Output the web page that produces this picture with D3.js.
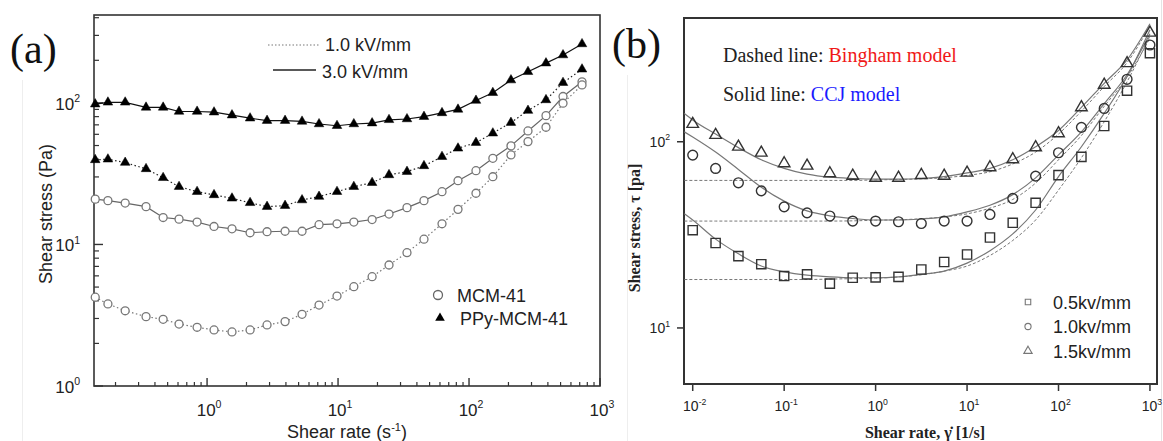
<!DOCTYPE html>
<html>
<head>
<meta charset="utf-8">
<script src="https://cdn.jsdelivr.net/npm/d3@7"></script>
<style>
body { margin: 0; background: #fff; }
svg { display: block; }
</style>
</head>
<body>
<div id="chart"></div>
<script>
// ---- panel (a): shear stress vs shear rate, MCM-41 / PPy-MCM-41
var rateA = [0.14, 0.175, 0.237, 0.342, 0.462, 0.611, 0.839, 1.13, 1.55, 2.13, 2.87, 3.94, 5.31, 7.16, 9.82,
	13.2, 18.2, 24.5, 33.6, 45.3, 62.2, 82.4, 113, 152, 209, 282, 387, 522, 729];
var ppy3kv = [98, 101, 101, 93, 93, 87, 87, 86, 82, 78, 75, 75, 74, 71, 69,
	71, 72, 76, 77, 80, 85, 90, 104, 118, 145, 166, 191, 218, 261];
var ppy1kv = [39.6, 40, 37.9, 34.2, 29.6, 25.6, 23.6, 22.4, 21.2, 19.7, 18.5, 18.8, 20.6, 21.8, 23.6,
	25.6, 27.3, 31, 32.7, 35.9, 41.7, 47.8, 52.4, 61.1, 72.6, 88.3, 105, 139, 173];
var mcm3kv = [20.9, 20.4, 19.6, 18.5, 15.5, 15.1, 14.4, 13.4, 12.9, 12.1, 12.3, 12.4, 12.4, 13.8, 14.0,
	14.4, 15.0, 16.4, 18.2, 20.4, 23.6, 28.2, 33.2, 40.6, 49.7, 63.4, 81.3, 111, 141];
var mcm1kv = [4.24, 3.80, 3.40, 3.09, 2.96, 2.74, 2.60, 2.49, 2.41, 2.49, 2.70, 2.85, 3.21, 3.73, 4.32,
	5.03, 5.92, 7.16, 8.75, 10.9, 14.0, 17.7, 23.0, 30.1, 42.9, 53.3, 67.3, 99.5, 134];
var xTicksA = [1, 10, 100, 1000];
var xTickExpA = ['0', '1', '2', '3'];
var yTicksA = [1, 10, 100];
var yTickExpA = ['0', '1', '2'];

// ---- panel (b): data and model fits
var rateB = [0.01, 0.0178, 0.0316, 0.0562, 0.1, 0.178, 0.316, 0.562, 1, 1.78, 3.16,
	5.62, 10, 17.8, 31.6, 56.2, 100, 178, 316, 562, 1000];
var tri15 = [124.5, 108.6, 94.0, 87.3, 76.5, 74.3, 67.6, 65.6, 64.0, 64.0, 66.2,
	65.6, 68.1, 72.8, 80.4, 93.3, 110.9, 153, 202, 264, 385];
var cir10 = [84.8, 71.9, 60.2, 54.5, 44.7, 41.5, 39.9, 37.5, 37.5, 37.2, 36.4,
	37.5, 37.5, 40.7, 49.6, 65.4, 87.3, 119.5, 151, 216.5, 331];
var sq05 = [33.5, 28.6, 24.3, 22.0, 19.0, 19.4, 17.3, 18.6, 18.7, 18.8, 20.6,
	22.6, 24.8, 30.6, 36.7, 47.0, 66.2, 83.0, 121.5, 188, 299];
var fitRate = [0.0081, 0.01, 0.0178, 0.0316, 0.0562, 0.1, 0.178, 0.316, 0.562, 1, 1.78, 3.16,
	5.62, 10, 17.8, 31.6, 56.2, 100, 178, 316, 562, 1000];
var ccj15 = [142, 131, 110, 93, 80, 72, 67, 64.5, 63.5, 63, 63, 63.5, 65, 68, 72, 80, 94, 115, 153, 206, 275, 430];
var ccj10 = [113, 106, 88, 71, 57, 48, 42.5, 40, 38.7, 38, 38, 38.5, 39.5, 42, 45.6, 52, 64, 85, 113, 160, 229, 380];
var ccj05 = [41, 38, 30, 25, 21.5, 20, 19.2, 18.8, 18.6, 18.6, 18.8, 19.4, 20.2, 22.3, 26, 32, 43, 65, 94, 142, 224, 400];
var bing15 = [62, 62, 62, 62, 62, 62, 62, 62, 62, 62.4, 62.7, 63.2, 64.1, 66, 69, 76, 88, 110, 146, 198, 266, 420];
var bing10 = [37.5, 37.5, 37.5, 37.5, 37.5, 37.5, 37.5, 37.5, 37.6, 37.9, 38.1, 38.6, 39.5, 41, 44, 49, 60, 80, 108, 155, 222, 360];
var bing05 = [18.2, 18.2, 18.2, 18.2, 18.2, 18.2, 18.2, 18.3, 18.4, 18.5, 18.8, 19.3, 20.2, 21.5, 24.5, 29.5, 38, 55, 82, 128, 210, 370];
var xTicksB = [0.01, 0.1, 1, 10, 100, 1000];
var xTickExpB = ['-2', '-1', '0', '1', '2', '3'];
var yTicksB = [10, 100];
var yTickExpB = ['1', '2'];
var legendB = ['0.5kv/mm', '1.0kv/mm', '1.5kv/mm'];

var W = 1163, H = 441;
var sans = 'Liberation Sans, Arial, sans-serif';
var serif = 'Liberation Serif, Times New Roman, serif';

var svg = d3.select('#chart').append('svg')
	.attr('width', W)
	.attr('height', H);

function powLabel(g, x, y, exp, size, anchor, font) {
	var t = g.append('text')
		.attr('x', x)
		.attr('y', y)
		.attr('text-anchor', anchor)
		.style('font-family', font)
		.style('font-size', size + 'px')
		.style('fill', '#222');
	t.append('tspan').text('10');
	t.append('tspan').attr('dy', -size * 0.45).style('font-size', (size * 0.62) + 'px').text(exp);
	return t;
}

function minorTicks(lo, hi) {
	var out = [];
	for (var e = Math.floor(Math.log10(lo)); e <= Math.ceil(Math.log10(hi)); e++) {
		for (var m = 2; m <= 9; m++) {
			var v = m * Math.pow(10, e);
			if (v > lo && v < hi) out.push(v);
		}
	}
	return out;
}

// faint crop edges from the scanned figure
svg.append('line').attr('x1', 22.5).attr('x2', 22.5).attr('y1', 80).attr('y2', H)
	.style('stroke', '#eee').style('stroke-width', 1);
svg.append('line').attr('x1', 627.5).attr('x2', 627.5).attr('y1', 75).attr('y2', H)
	.style('stroke', '#eee').style('stroke-width', 1);
svg.append('line').attr('x1', 1161.5).attr('x2', 1161.5).attr('y1', 0).attr('y2', H)
	.style('stroke', '#e4e4e4').style('stroke-width', 1);

// ================= panel (a) =================
var xA = d3.scaleLog().domain([0.137, 1000]).range([94, 600]);
var yA = d3.scaleLog().domain([1, 418]).range([386, 15]);
var gA = svg.append('g').attr('id', 'panelA');

// inward ticks
gA.selectAll('line.xminA').data(minorTicks(0.137, 1000)).enter().append('line')
	.attr('x1', function(d) { return xA(d); }).attr('x2', function(d) { return xA(d); })
	.attr('y1', 386).attr('y2', 382)
	.style('stroke', '#333').style('stroke-width', 1.2);
gA.selectAll('line.xmajA').data(xTicksA).enter().append('line')
	.attr('x1', function(d) { return xA(d); }).attr('x2', function(d) { return xA(d); })
	.attr('y1', 386).attr('y2', 378)
	.style('stroke', '#333').style('stroke-width', 1.4);
gA.selectAll('line.yminA').data(minorTicks(1, 418)).enter().append('line')
	.attr('x1', 94).attr('x2', 99)
	.attr('y1', function(d) { return yA(d); }).attr('y2', function(d) { return yA(d); })
	.style('stroke', '#333').style('stroke-width', 1.2);
gA.selectAll('line.ymajA').data(yTicksA).enter().append('line')
	.attr('x1', 94).attr('x2', 103)
	.attr('y1', function(d) { return yA(d); }).attr('y2', function(d) { return yA(d); })
	.style('stroke', '#333').style('stroke-width', 1.4);

xTicksA.forEach(function(d, i) { powLabel(gA, xA(d) + 2, 416, xTickExpA[i], 17, 'middle', sans); });
yTicksA.forEach(function(d, i) { powLabel(gA, 80, yA(d) + 7, yTickExpA[i], 17, 'end', sans); });

gA.append('rect')
	.attr('x', 94).attr('y', 15).attr('width', 506).attr('height', 371)
	.style('fill', 'none').style('stroke', '#333').style('stroke-width', 1.6);

var lineA = d3.line()
	.x(function(d) { return xA(d[0]); })
	.y(function(d) { return yA(d[1]); });

var seriesA = [
	{ vals: ppy3kv, dash: null, color: '#111', mark: 'tri' },
	{ vals: ppy1kv, dash: '1.5,2.5', color: '#222', mark: 'tri' },
	{ vals: mcm3kv, dash: null, color: '#666', mark: 'cir' },
	{ vals: mcm1kv, dash: '1.5,2.5', color: '#777', mark: 'cir' }
];

seriesA.forEach(function(s) {
	var pts = rateA.map(function(r, i) { return [r, s.vals[i]]; });
	gA.append('path')
		.attr('d', lineA(pts))
		.style('fill', 'none')
		.style('stroke', s.color)
		.style('stroke-width', 1.2)
		.style('stroke-dasharray', s.dash);
	var sym = d3.symbol().type(s.mark === 'tri' ? d3.symbolTriangle : d3.symbolCircle)
		.size(s.mark === 'tri' ? 40 : 50);
	gA.selectAll(null).data(pts).enter().append('path')
		.attr('d', sym)
		.attr('transform', function(d) { return 'translate(' + xA(d[0]) + ',' + yA(d[1]) + ')'; })
		.style('fill', s.mark === 'tri' ? '#000' : '#fff')
		.style('stroke', s.mark === 'tri' ? '#000' : '#777')
		.style('stroke-width', s.mark === 'tri' ? 0.5 : 1.3);
});

// line-style legend
gA.append('line').attr('x1', 268).attr('x2', 320).attr('y1', 45).attr('y2', 45)
	.style('stroke', '#777').style('stroke-width', 1.2).style('stroke-dasharray', '1.5,2');
gA.append('text').attr('x', 325).attr('y', 51).text('1.0 kV/mm')
	.style('font-family', sans).style('font-size', '18px').style('fill', '#222');
gA.append('line').attr('x1', 273).attr('x2', 316).attr('y1', 70).attr('y2', 70)
	.style('stroke', '#222').style('stroke-width', 1.3);
gA.append('text').attr('x', 322).attr('y', 78).text('3.0 kV/mm')
	.style('font-family', sans).style('font-size', '18px').style('fill', '#222');

// material legend
gA.append('circle').attr('cx', 438).attr('cy', 295).attr('r', 4.5)
	.style('fill', '#fff').style('stroke', '#666').style('stroke-width', 1.3);
gA.append('text').attr('x', 457).attr('y', 301.5).text('MCM-41')
	.style('font-family', sans).style('font-size', '18px').style('fill', '#222');
gA.append('path').attr('d', d3.symbol().type(d3.symbolTriangle).size(40))
	.attr('transform', 'translate(440,318)').style('fill', '#000');
gA.append('text').attr('x', 460).attr('y', 324.5).text('PPy-MCM-41')
	.style('font-family', sans).style('font-size', '18px').style('fill', '#222');

// axis titles
gA.append('text').attr('x', 347).attr('y', 438).attr('text-anchor', 'middle')
	.style('font-family', sans).style('font-size', '18px').style('fill', '#222')
	.call(function(t) {
		t.append('tspan').text('Shear rate (s');
		t.append('tspan').attr('dy', -7).style('font-size', '11px').text('-1');
		t.append('tspan').attr('dy', 7).text(')');
	});
gA.append('text')
	.attr('transform', 'translate(52,214) rotate(-90)')
	.attr('text-anchor', 'middle')
	.style('font-family', sans).style('font-size', '18px').style('fill', '#222')
	.text('Shear stress (Pa)');

gA.append('text').attr('x', 10).attr('y', 63).text('(a)')
	.style('font-family', serif).style('font-size', '42px').style('fill', '#111');

// ================= panel (b) =================
var xB = d3.scaleLog().domain([0.00803, 1194]).range([684, 1157]);
var yB = d3.scaleLog().domain([5.0, 462]).range([384, 18]);
var gB = svg.append('g').attr('id', 'panelB');

svg.append('clipPath').attr('id', 'clipB').append('rect')
	.attr('x', 684).attr('y', 18).attr('width', 473).attr('height', 366);

// outward ticks
gB.selectAll('line.xmajB').data(xTicksB).enter().append('line')
	.attr('x1', function(d) { return xB(d); }).attr('x2', function(d) { return xB(d); })
	.attr('y1', 384).attr('y2', 391)
	.style('stroke', '#333').style('stroke-width', 1.5);
gB.selectAll('line.ymajB').data(yTicksB).enter().append('line')
	.attr('x1', 677).attr('x2', 684)
	.attr('y1', function(d) { return yB(d); }).attr('y2', function(d) { return yB(d); })
	.style('stroke', '#333').style('stroke-width', 1.5);

xTicksB.forEach(function(d, i) { powLabel(gB, xB(d) + 2, 411, xTickExpB[i], 14, 'middle', sans); });
yTicksB.forEach(function(d, i) { powLabel(gB, 670, yB(d) + 5, yTickExpB[i], 14, 'end', sans); });

gB.append('rect')
	.attr('x', 684).attr('y', 18).attr('width', 473).attr('height', 366)
	.style('fill', 'none').style('stroke', '#333').style('stroke-width', 2);

var lineB = d3.line()
	.curve(d3.curveMonotoneX)
	.x(function(d) { return xB(d[0]); })
	.y(function(d) { return yB(d[1]); });

var plotB = gB.append('g').attr('clip-path', 'url(#clipB)');

[bing05, bing10, bing15].forEach(function(vals) {
	plotB.append('path')
		.attr('d', lineB(fitRate.map(function(r, i) { return [r, vals[i]]; })))
		.style('fill', 'none').style('stroke', '#777').style('stroke-width', 1)
		.style('stroke-dasharray', '3,2');
});
[ccj05, ccj10, ccj15].forEach(function(vals) {
	plotB.append('path')
		.attr('d', lineB(fitRate.map(function(r, i) { return [r, vals[i]]; })))
		.style('fill', 'none').style('stroke', '#777').style('stroke-width', 1.2);
});

var seriesB = [
	{ vals: sq05, type: d3.symbolSquare, size: 85 },
	{ vals: cir10, type: d3.symbolCircle, size: 75 },
	{ vals: tri15, type: d3.symbolTriangle, size: 58 }
];
seriesB.forEach(function(s) {
	gB.selectAll(null).data(rateB).enter().append('path')
		.attr('d', d3.symbol().type(s.type).size(s.size))
		.attr('transform', function(d, i) { return 'translate(' + xB(d) + ',' + yB(s.vals[i]) + ')'; })
		.style('fill', 'none').style('stroke', '#333').style('stroke-width', 1.4);
});

// legend (b)
seriesB.forEach(function(s, i) {
	gB.append('path')
		.attr('d', d3.symbol().type(s.type).size(30))
		.attr('transform', 'translate(1028,' + (302 + i * 24.5) + ')')
		.style('fill', 'none').style('stroke', '#777').style('stroke-width', 1.1);
	gB.append('text').attr('x', 1053).attr('y', 308.5 + i * 24.5).text(legendB[i])
		.style('font-family', sans).style('font-size', '18px').style('fill', '#222');
});

// model annotation
gB.append('text').attr('x', 723).attr('y', 62)
	.style('font-family', serif).style('font-size', '20px')
	.call(function(t) {
		t.append('tspan').style('fill', '#222').text('Dashed line: ');
		t.append('tspan').style('fill', '#f01818').text('Bingham model');
	});
gB.append('text').attr('x', 723).attr('y', 101)
	.style('font-family', serif).style('font-size', '20px')
	.call(function(t) {
		t.append('tspan').style('fill', '#222').text('Solid line: ');
		t.append('tspan').style('fill', '#1a1aff').text('CCJ model');
	});

// axis titles
gB.append('text').attr('x', 925).attr('y', 438).attr('text-anchor', 'middle')
	.style('font-family', serif).style('font-size', '16px').style('font-weight', 'bold').style('fill', '#222')
	.text('Shear rate, \u03B3\u0307 [1/s]');
gB.append('text')
	.attr('transform', 'translate(640,228) rotate(-90)')
	.attr('text-anchor', 'middle')
	.style('font-family', serif).style('font-size', '16px').style('font-weight', 'bold').style('fill', '#222')
	.text('Shear stress, \u03C4 [pa]');

gB.append('text').attr('x', 612).attr('y', 58).text('(b)')
	.style('font-family', serif).style('font-size', '42px').style('fill', '#111');
</script>
</body>
</html>
